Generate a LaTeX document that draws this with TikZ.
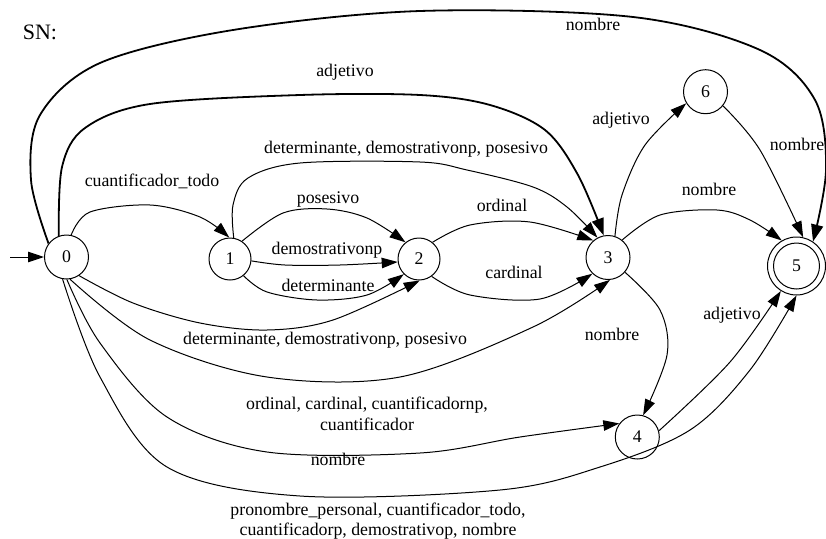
\documentclass[tikz,border=0pt]{standalone}
\usepackage{fontspec}
\setmainfont{Liberation Serif}
\usetikzlibrary{arrows.meta}
\begin{document}
\begin{tikzpicture}[x=1pt,y=-1pt,
  st/.style={circle,draw,line width=1pt,minimum size=44pt,inner sep=0pt,font=\fontsize{17.8}{20}\selectfont},
  lbl/.style={inner sep=0pt,font=\fontsize{17.8}{20.5}\selectfont,text height=12pt,text depth=3.5pt},
  lbltwo/.style={inner sep=0pt,font=\fontsize{17.8}{20.5}\selectfont,align=center},
  edge/.style={line width=1pt,-{Triangle[length=16pt,width=10.5pt]}},
  tedge/.style={line width=1.8pt,-{Triangle[length=17pt,width=12pt]}}
]
\useasboundingbox (0,0) rectangle (826,538);

% states
\node[st] (n0) at (66.5,257) {0};
\node[st,minimum size=42pt] (n1) at (230,259) {1};
\node[st,minimum size=42pt] (n2) at (419,259) {2};
\node[st] (n3) at (608,257.5) {3};
\node[st] (n4) at (637.3,437) {4};
\node[st,minimum size=58pt] (n5) at (796.5,266) {5};
\draw[line width=1pt] (n5.center) circle[radius=23pt];
\node[st] (n6) at (705.5,91.7) {6};

\node[inner sep=0pt,font=\fontsize{22}{24}\selectfont] (sn) at (40,32) {SN:};

% initial arrow
\coordinate (init) at (10,257);
\draw[edge] (init) -- (n0);

% 0 -> 5 top
\draw[tedge] plot[smooth,tension=0.55] coordinates {(n0.143) (31,180) (40,115) (100,63) (233,30) (420,11) (633,17) (760,50) (815,100) (826,170) (n5.56)};
% 0 -> 3 top
\draw[tedge] plot[smooth,tension=0.55] coordinates {(n0.110) (62,167) (85,128) (150,104) (300,95) (420,95) (490,105) (545,130) (578,175) (n3.101)};
% 0 -> 1
\draw[edge] plot[smooth,tension=0.55] coordinates {(n0.78) (90,212) (150,205) (200,217) (n1.92)};
% 1 -> 3
\draw[edge] plot[smooth,tension=0.55] coordinates {(n1.80) (233,205) (248,178) (300,163) (420,162) (467,170) (533,187) (567,207) (n3.118)};
% 1 -> 2 (x3)
\draw[edge] plot[smooth,tension=0.55] coordinates {(n1.56) (283,213) (327,209) (367,218) (n2.129)};
\draw[edge] plot[smooth,tension=0.55] coordinates {(n1.-5) (285,265) (340,265) (n2.188)};
\draw[edge] plot[smooth,tension=0.55] coordinates {(n1.-51) (267,292) (317,300) (367,295) (n2.-135)};
% 2 -> 3 (x2)
\draw[edge] plot[smooth,tension=0.55] coordinates {(n2.51) (470,225) (530,222) (n3.131)};
\draw[edge] plot[smooth,tension=0.55] coordinates {(n2.-54) (470,295) (540,299) (n3.-134)};
% 0 -> 2 bottom
\draw[edge] plot[smooth,tension=0.55] coordinates {(n0.-56) (133,303) (200,323) (267,330) (333,320) (n2.-88)};
% 0 -> 3 bottom
\draw[edge] plot[smooth,tension=0.55] coordinates {(n0.-81) (150,340) (267,377) (400,377) (533,327) (n3.-85)};
% 0 -> 4
\draw[edge] plot[smooth,tension=0.55] coordinates {(n0.-89) (100,343) (167,417) (267,452) (420,453) (520,437) (n4.143)};
% 0 -> 5 bottom
\draw[edge] plot[smooth,tension=0.55] coordinates {(n0.-100) (100,377) (167,467) (300,496) (500,490) (600,467) (690,430) (750,370) (n5.-90)};
% 3 -> 6, 6 -> 5, 3 -> 5, 3 -> 4, 4 -> 5
\draw[edge] plot[smooth,tension=0.55] coordinates {(n3.72) (622,195) (645,145) (n6.-149)};
\draw[edge] plot[smooth,tension=0.55] coordinates {(n6.-39) (760,150) (n5.77)};
\draw[edge] plot[smooth,tension=0.55] coordinates {(n3.51) (660,215) (717,210) (750,220) (n5.120)};
\draw[edge] plot[smooth,tension=0.55] coordinates {(n3.-41) (660,310) (667,355) (n4.75)};
\draw[edge] plot[smooth,tension=0.55] coordinates {(n4.16) (730,362) (n5.-122)};

% labels
\node[lbl] (l1) at (593,26) {nombre};
\node[lbl] (l2) at (345,72) {adjetivo};
\node[lbl] (l3) at (152,182) {cuantificador\_todo};
\node[lbl] (l4) at (406,149) {determinante, demostrativonp, posesivo};
\node[lbl] (l5) at (328,199) {posesivo};
\node[lbl] (l6) at (327,250) {demostrativonp};
\node[lbl] (l7) at (328,287) {determinante};
\node[lbl] (l8) at (502,207) {ordinal};
\node[lbl] (l9) at (514,274) {cardinal};
\node[lbl] (l10) at (621,120) {adjetivo};
\node[lbl] (l11) at (797,146) {nombre};
\node[lbl] (l12) at (709,191) {nombre};
\node[lbl] (l13) at (612,336) {nombre};
\node[lbl] (l14) at (732,315) {adjetivo};
\node[lbl] (l15) at (325,340) {determinante, demostrativonp, posesivo};
\node[lbltwo] (l16) at (367,414) {ordinal, cardinal, cuantificadornp,\\cuantificador};
\node[lbl] (l17) at (338,461) {nombre};
\node[lbltwo] (l18) at (378,521) {pronombre\_personal, cuantificador\_todo,\\cuantificadorp, demostrativop, nombre};
\end{tikzpicture}
\end{document}
